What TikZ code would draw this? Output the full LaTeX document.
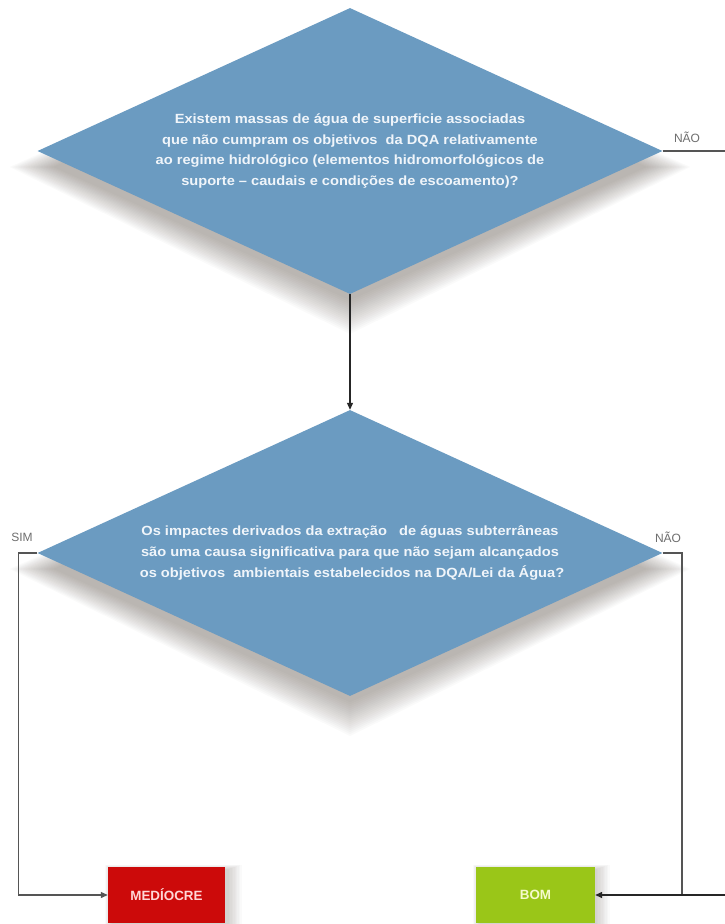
\documentclass[tikz,border=0pt]{standalone}
\usepackage{fontspec}
\setmainfont{Liberation Sans}
\newfontfamily\diafont[FakeStretch=1.1]{Liberation Sans}
\usetikzlibrary{shapes.geometric,arrows.meta}
\definecolor{dblue}{RGB}{107,155,193}
\definecolor{medred}{RGB}{204,10,10}
\definecolor{bomgreen}{RGB}{154,198,24}
\definecolor{lnk}{RGB}{85,85,85}
\definecolor{lbl}{RGB}{110,110,110}
\definecolor{shd}{RGB}{95,85,75}
\begin{document}
\begin{tikzpicture}[x=1pt,y=-1pt,
  decision/.style={diamond, fill=dblue, aspect=2.18, minimum width=625pt,
    minimum height=286pt, inner sep=0pt, align=center, text={rgb,255:red,240;green,245;blue,250},
    font=\diafont\fontsize{13.3}{20.6}\selectfont\bfseries},
  outcome/.style={rectangle, inner sep=0pt, minimum height=56pt,
    font=\fontsize{13.4}{14}\selectfont\bfseries},
  shadowlayer/.style={fill=shd, opacity=0.028},
  conn/.style={draw=lnk, line width=1.4pt},
  thin/.style={draw=lnk, line width=1.1pt},
  arr/.style={-{Triangle[length=7pt,width=6pt]}},
  tag/.style={text=lbl, font=\fontsize{12}{13}\selectfont, inner sep=0pt}]
\fill[white] (0,0) rectangle (725,924);
\useasboundingbox (0,0) rectangle (725,924);

% soft shadows under the diamonds
\foreach \cy in {151,553}{
  \foreach \k in {0,...,17}{
    \fill[shadowlayer] (350-296-2.6*\k,\cy+16) -- (350,\cy+16-135-1.0*\k)
      -- (350+296+2.6*\k,\cy+16) -- (350,\cy+16+133+2.0*\k) -- cycle;
  }
}
% soft shadows beside the boxes
\foreach \bx in {108,476}{
  \foreach \k in {0,...,9}{
    \fill[shadowlayer] (\bx+4-0.8*\k,867+2-0.5*\k) rectangle (\bx+117+4+1.4*\k,924);
  }
}

\node[decision] (d1) at (350,151) {Existem massas de água de superficie associadas\\
que não cumpram os objetivos\ \ da DQA relativamente\\
ao regime hidrológico (elementos hidromorfológicos de\\
suporte – caudais e condições de escoamento)?};

\node[decision] (d2) at (350,553) {Os impactes derivados da extração\ \ \ de águas subterrâneas\\
são uma causa significativa para que não sejam alcançados\\
\ os objetivos\ \ ambientais estabelecidos na DQA/Lei da Água?};

\node[outcome, fill=medred, minimum width=117pt, text={rgb,255:red,255;green,215;blue,215}] (med) at (166.5,895) {MEDÍOCRE};
\node[outcome, fill=bomgreen, minimum width=119pt, text={rgb,255:red,245;green,250;blue,205}] (bom) at (535.5,895) {BOM};

\coordinate (exitTop) at (725,151);
\coordinate (exitBot) at (725,895);
\coordinate (leftc) at (18.5,553);
\coordinate (rightc) at (682,553);

\draw[thin, draw=black!85, arr] (d1.south) -- (d2.north);
\draw[conn] (d1.east) -- (exitTop);
\draw[thin, arr] (d2.west) -- (leftc) |- (med.west);
\draw[conn] (d2.east) -- (rightc) |- (exitBot);
\draw[conn, draw=black!85, arr] (exitBot) -- (bom.east);

\node[tag] (tNao1) at (687,137) {NÃO};
\node[tag] (tSim) at (22,537) {SIM};
\node[tag] (tNao2) at (668,537) {NÃO};
\end{tikzpicture}
\end{document}
